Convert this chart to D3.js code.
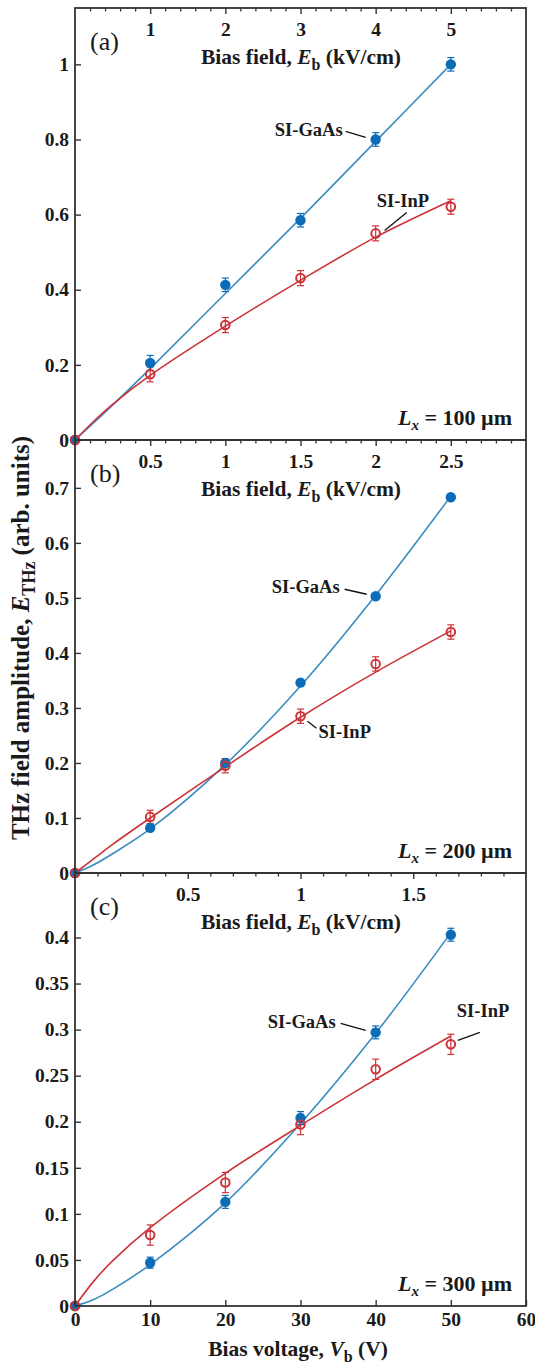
<!DOCTYPE html>
<html>
<head>
<meta charset="utf-8">
<script src="https://cdn.jsdelivr.net/npm/d3@7"></script>
<style>
  body { margin: 0; background: #fff; }
  svg text { font-family: "Liberation Serif", "Times New Roman", serif; fill: #1a1a1a; }
</style>
</head>
<body>
<div id="chart"></div>
<script>
// measured bias voltages (V) and the voltages where the fit curves were read
const biasVoltage = [0, 10, 20, 30, 40, 50];
const fitVoltage = [0, 2.5, 5, 10, 20, 30, 40, 50];
const voltageTicks = [0, 10, 20, 30, 40, 50, 60];

// (a) Lx = 100 um
const gaasA = [0, 0.205, 0.413, 0.585, 0.800, 1.000];
const gaasErrA = [0, 0.020, 0.018, 0.018, 0.018, 0.018];
const inpA = [0, 0.175, 0.306, 0.431, 0.550, 0.621];
const inpErrA = [0, 0.020, 0.020, 0.020, 0.020, 0.020];
const gaasFitA = [0, 0.046, 0.093, 0.190, 0.390, 0.590, 0.795, 1.000];
const inpFitA = [0, 0.050, 0.095, 0.172, 0.303, 0.425, 0.540, 0.637];
const yTicksA = [0, 0.2, 0.4, 0.6, 0.8, 1];
const fieldTicksA = [1, 2, 3, 4, 5];

// (b) Lx = 200 um
const gaasB = [0, 0.082, 0.200, 0.346, 0.503, 0.683];
const gaasErrB = [0, 0.004, 0.005, 0.005, 0.005, 0.005];
const inpB = [0, 0.102, 0.195, 0.285, 0.380, 0.438];
const inpErrB = [0, 0.012, 0.013, 0.013, 0.013, 0.013];
const gaasFitB = [0, 0.015, 0.035, 0.080, 0.197, 0.340, 0.505, 0.685];
const inpFitB = [0, 0.026, 0.052, 0.100, 0.193, 0.283, 0.365, 0.440];
const yTicksB = [0, 0.1, 0.2, 0.3, 0.4, 0.5, 0.6, 0.7];
const fieldTicksB = [0.5, 1, 1.5, 2, 2.5];

// (c) Lx = 300 um
const gaasC = [0, 0.047, 0.113, 0.204, 0.297, 0.403];
const gaasErrC = [0, 0.006, 0.007, 0.007, 0.007, 0.007];
const inpC = [0, 0.077, 0.134, 0.197, 0.257, 0.284];
const inpErrC = [0, 0.011, 0.011, 0.011, 0.011, 0.011];
const gaasFitC = [0, 0.007, 0.018, 0.045, 0.112, 0.198, 0.296, 0.405];
const inpFitC = [0, 0.027, 0.049, 0.085, 0.144, 0.196, 0.246, 0.293];
const yTicksC = [0, 0.05, 0.1, 0.15, 0.2, 0.25, 0.3, 0.35, 0.4];
const fieldTicksC = [0.5, 1, 1.5];

const blueMarker = "#0b6cb8";
const blueLine = "#3a8cbf";
const redColor = "#cc3338";
const frameColor = "#333";

const W = 535, H = 1366;
const left = 75, right = 526;

const svg = d3.select("#chart").append("svg")
  .attr("width", W).attr("height", H);

const x = d3.scaleLinear().domain([0, 60]).range([left, right]);

// panel setup (layout only, values come from the arrays above)
const panels = [
  { tag: "(a)", top: 8, bottom: 440, yMax: 1.15, yTicks: yTicksA,
    gap: 100, fieldTicks: fieldTicksA, minorStep: 0.2, lx: "100",
    gaas: gaasA, gaasErr: gaasErrA, inp: inpA, inpErr: inpErrA, gaasFit: gaasFitA, inpFit: inpFitA,
    gaasNote: { i: 4, tx: -33, ty: -3, l: [-30, -8, -10, -2], anchor: "end" },
    inpNote: { i: 4, tx: 1, ty: -26, l: [31, -21, 9, -3], anchor: "start" } },
  { tag: "(b)", top: 440, bottom: 873, yMax: 0.787, yTicks: yTicksB,
    gap: 200, fieldTicks: fieldTicksB, minorStep: 0.1, lx: "200",
    gaas: gaasB, gaasErr: gaasErrB, inp: inpB, inpErr: inpErrB, gaasFit: gaasFitB, inpFit: inpFitB,
    gaasNote: { i: 4, tx: -36, ty: -3, l: [-31, -7, -9, -2], anchor: "end" },
    inpNote: { i: 3, tx: 18, ty: 22, l: [16, 12, 7, 5], anchor: "start" } },
  { tag: "(c)", top: 873, bottom: 1306, yMax: 0.47, yTicks: yTicksC,
    gap: 300, fieldTicks: fieldTicksC, minorStep: 0.1, lx: "300",
    gaas: gaasC, gaasErr: gaasErrC, inp: inpC, inpErr: inpErrC, gaasFit: gaasFitC, inpFit: inpFitC,
    gaasNote: { i: 4, tx: -40, ty: -4, l: [-35, -9, -10, -2], anchor: "end" },
    inpNote: { i: 5, tx: 6, ty: -27, l: [29, -12, 7, -4], anchor: "start" } }
];

function styleTicks(sel) {
  sel.select(".domain").remove();
  sel.selectAll("line").attr("stroke", frameColor).attr("stroke-width", 1.4);
  sel.selectAll("text").style("font-size", "19.5px").style("font-weight", "bold")
    .attr("fill", "#1a1a1a");
}

panels.forEach((p, k) => {
  const y = d3.scaleLinear().domain([0, p.yMax]).range([p.bottom, p.top]);
  // bias field in kV/cm = V / gap(um) * 10
  const fieldMax = 60 * 10 / p.gap;
  const xf = d3.scaleLinear().domain([0, fieldMax]).range([left, right]);
  const g = svg.append("g");

  // left axis, ticks pointing in
  g.append("g")
    .attr("transform", `translate(${left},0)`)
    .call(d3.axisLeft(y).tickValues(p.yTicks).tickFormat(d3.format("~g")).tickSize(-6).tickPadding(6))
    .call(styleTicks);

  // top bias-field axis: minor ticks, then majors with labels inside the box
  const minor = d3.range(p.minorStep, fieldMax - 1e-6, p.minorStep)
    .filter(v => !p.fieldTicks.some(t => Math.abs(t - v) < 1e-6));
  const minorAxis = g.append("g")
    .attr("transform", `translate(0,${p.top})`)
    .call(d3.axisBottom(xf).tickValues(minor).tickSize(3.5).tickFormat(""));
  minorAxis.select(".domain").remove();
  minorAxis.selectAll("line").attr("stroke", frameColor).attr("stroke-width", 1.3);

  g.append("g")
    .attr("transform", `translate(0,${p.top})`)
    .call(d3.axisBottom(xf).tickValues(p.fieldTicks).tickFormat(d3.format("~g"))
      .tickSize(6).tickPadding(8))
    .call(styleTicks);

  // field axis title
  const ft = g.append("text")
    .attr("x", 301).attr("y", p.top + 56)
    .attr("text-anchor", "middle")
    .style("font-size", "21.5px").style("font-weight", "bold");
  ft.append("tspan").text("Bias field, ");
  ft.append("tspan").style("font-style", "italic").text("E");
  ft.append("tspan").attr("dy", 6).style("font-size", "16px").text("b");
  ft.append("tspan").attr("dy", -6).text(" (kV/cm)");

  // panel tag
  g.append("text").attr("x", 90).attr("y", p.top + 42)
    .style("font-size", "26px").text(p.tag);

  // Lx label
  const lt = g.append("text").attr("x", 512).attr("y", p.bottom - 15)
    .attr("text-anchor", "end")
    .style("font-size", "22px").style("font-weight", "bold");
  lt.append("tspan").style("font-style", "italic").text("L");
  lt.append("tspan").attr("dy", 5).style("font-style", "italic").style("font-size", "15px").text("x");
  lt.append("tspan").attr("dy", -5).text(` = ${p.lx} \u00b5m`);

  // fit curves
  const line = d3.line()
    .x((d, i) => x(fitVoltage[i]))
    .y(d => y(d))
    .curve(d3.curveCatmullRom.alpha(0.5));
  g.append("path").datum(p.gaasFit).attr("d", line)
    .attr("fill", "none").attr("stroke", blueLine).attr("stroke-width", 1.6);
  g.append("path").datum(p.inpFit).attr("d", line)
    .attr("fill", "none").attr("stroke", redColor).attr("stroke-width", 1.6);

  // error bars
  function errorBars(vals, errs, color) {
    const eb = g.append("g").attr("stroke", color).attr("stroke-width", 1.2);
    vals.forEach((v, i) => {
      if (errs[i] <= 0) return;
      const cx = x(biasVoltage[i]);
      eb.append("line").attr("x1", cx).attr("x2", cx)
        .attr("y1", y(v - errs[i])).attr("y2", y(v + errs[i]));
      [v - errs[i], v + errs[i]].forEach(e => {
        eb.append("line").attr("x1", cx - 3.5).attr("x2", cx + 3.5)
          .attr("y1", y(e)).attr("y2", y(e));
      });
    });
  }
  errorBars(p.gaas, p.gaasErr, blueMarker);
  errorBars(p.inp, p.inpErr, redColor);

  g.selectAll(".gaas").data(p.gaas).enter().append("circle")
    .attr("class", "gaas")
    .attr("cx", (d, i) => x(biasVoltage[i])).attr("cy", d => y(d))
    .attr("r", 5.2).attr("fill", blueMarker);
  g.selectAll(".inp").data(p.inp).enter().append("circle")
    .attr("class", "inp")
    .attr("cx", (d, i) => x(biasVoltage[i])).attr("cy", d => y(d))
    .attr("r", 4.3).attr("fill", "none").attr("stroke", redColor).attr("stroke-width", 2);

  // sample labels with leader lines
  function note(n, vals, label) {
    const px = x(biasVoltage[n.i]), py = y(vals[n.i]);
    g.append("text").attr("x", px + n.tx).attr("y", py + n.ty)
      .attr("text-anchor", n.anchor)
      .style("font-size", "18.5px").style("font-weight", "bold").text(label);
    g.append("line")
      .attr("x1", px + n.l[0]).attr("y1", py + n.l[1])
      .attr("x2", px + n.l[2]).attr("y2", py + n.l[3])
      .attr("stroke", "#111").attr("stroke-width", 1.3);
  }
  note(p.gaasNote, p.gaas, "SI-GaAs");
  note(p.inpNote, p.inp, "SI-InP");

  // frame
  g.append("rect").attr("x", left).attr("y", p.top)
    .attr("width", right - left).attr("height", p.bottom - p.top)
    .attr("fill", "none").attr("stroke", frameColor).attr("stroke-width", 1.8);

  // bias voltage axis only under the last panel
  if (k === panels.length - 1) {
    g.append("g")
      .attr("transform", `translate(0,${p.bottom})`)
      .call(d3.axisBottom(x).tickValues(voltageTicks).tickSize(-6).tickPadding(6))
      .call(styleTicks);
  }
});

// bottom axis title
const bt = svg.append("text").attr("x", 298).attr("y", 1356)
  .attr("text-anchor", "middle")
  .style("font-size", "21.5px").style("font-weight", "bold");
bt.append("tspan").text("Bias voltage, ");
bt.append("tspan").style("font-style", "italic").text("V");
bt.append("tspan").attr("dy", 6).style("font-size", "16px").text("b");
bt.append("tspan").attr("dy", -6).text(" (V)");

// shared y title
const yt = svg.append("text")
  .attr("transform", "translate(29,638) rotate(-90)")
  .attr("text-anchor", "middle")
  .style("font-size", "25px").style("font-weight", "bold");
yt.append("tspan").text("THz field amplitude, ");
yt.append("tspan").style("font-style", "italic").text("E");
yt.append("tspan").attr("dy", 6).style("font-size", "18px").text("THz");
yt.append("tspan").attr("dy", -6).text(" (arb. units)");
</script>
</body>
</html>
